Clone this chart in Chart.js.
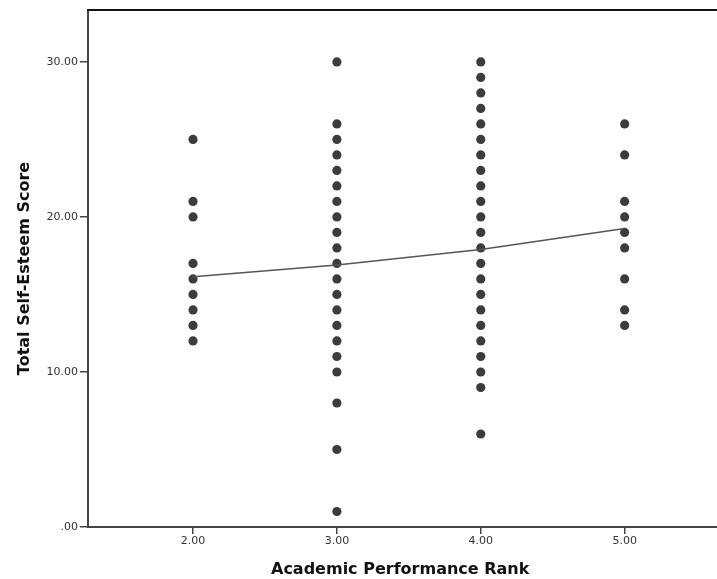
<!DOCTYPE html>
<html>
<head>
<meta charset="utf-8">
<script src="https://cdn.jsdelivr.net/npm/chart.js@4.4.1/dist/chart.umd.min.js"></script>
<style>
  html, body { margin: 0; padding: 0; background: #fff; }
  #wrap { width: 717px; height: 579px; }
</style>
</head>
<body>
<div id="wrap"><canvas id="chart" width="717" height="579"></canvas></div>
<script>
'use strict';

// ranks on the x axis and the scores seen at each rank
let ranks = [2, 3, 4, 5];
let scoresRank2 = [25, 21, 20, 17, 16, 15, 14, 13, 12];
let scoresRank3 = [30, 26, 25, 24, 23, 22, 21, 20, 19, 18, 17, 16, 15, 14, 13, 12, 11, 10, 8, 5, 1];
let scoresRank4 = [30, 29, 28, 27, 26, 25, 24, 23, 22, 21, 20, 19, 18, 17, 16, 15, 14, 13, 12, 11, 10, 9, 6];
let scoresRank5 = [26, 24, 21, 20, 19, 18, 16, 14, 13];
// fit line value at each rank
let fitLine = [16.15, 16.9, 17.9, 19.25];

let xTicks = [2, 3, 4, 5];
let yTicks = [0, 10, 20, 30];

let xTitle = 'Academic Performance Rank';
let yTitle = 'Total Self-Esteem Score';

let allScores = [scoresRank2, scoresRank3, scoresRank4, scoresRank5];
let points = [];
for (let i = 0; i < ranks.length; i++) {
  for (let j = 0; j < allScores[i].length; j++) {
    points.push({ x: ranks[i], y: allScores[i][j] });
  }
}
let linePoints = ranks.map((r, i) => ({ x: r, y: fitLine[i] }));

function formatTick(value) {
  if (value === 0) {
    return '.00';
  }
  return value.toFixed(2);
}

// top frame line and the rest of the bottom axis up to the page edge
let frameLines = {
  id: 'frameLines',
  afterDraw(chart) {
    let ctx = chart.ctx;
    let area = chart.chartArea;
    ctx.save();
    ctx.strokeStyle = '#111';
    ctx.lineWidth = 2;
    ctx.beginPath();
    ctx.moveTo(area.left - 1, area.top);
    ctx.lineTo(chart.width, area.top);
    ctx.stroke();
    ctx.strokeStyle = '#444';
    ctx.beginPath();
    ctx.moveTo(area.right - 2, Math.round(area.bottom));
    ctx.lineTo(chart.width, Math.round(area.bottom));
    ctx.stroke();
    ctx.restore();
  }
};

let tickFont = { family: 'DejaVu Sans', size: 11 };
let titleFont = { family: 'DejaVu Sans', size: 16, weight: 'bold' };

// eslint-disable-next-line no-unused-vars
let chart = new Chart(document.getElementById('chart').getContext('2d'), {
  type: 'scatter',
  data: {
    datasets: [{
      type: 'line',
      data: linePoints,
      borderColor: '#555555',
      borderWidth: 1.5,
      pointRadius: 0,
      fill: false,
      tension: 0,
      order: 0
    },
    {
      data: points,
      backgroundColor: '#3c3c3c',
      borderColor: '#3c3c3c',
      borderWidth: 0,
      pointRadius: 4.6,
      order: 1
    }]
  },
  options: {
    responsive: false,
    animation: false,
    devicePixelRatio: 1,
    layout: { padding: { top: 10, right: 0, left: 0, bottom: 0 } },
    plugins: {
      legend: { display: false },
      tooltip: { enabled: false }
    },
    scales: {
      x: {
        type: 'linear',
        min: 1.27,
        max: 5.61,
        afterBuildTicks: (axis) => { axis.ticks = xTicks.map(v => ({ value: v })); },
        afterFit: (axis) => { axis.height = 52; },
        grid: { drawOnChartArea: false, drawTicks: true, tickLength: 7, color: '#444', lineWidth: 1.5 },
        border: { display: true, color: '#444', width: 2 },
        ticks: { font: tickFont, color: '#333', padding: 1, callback: formatTick },
        title: { display: true, text: xTitle, font: titleFont, color: '#111', padding: { top: 0, bottom: 0 } }
      },
      y: {
        type: 'linear',
        min: 0,
        max: 33.35,
        afterBuildTicks: (axis) => { axis.ticks = yTicks.map(v => ({ value: v })); },
        afterFit: (axis) => { axis.width = 88; },
        grid: { drawOnChartArea: false, drawTicks: true, tickLength: 8, color: '#444', lineWidth: 1.5 },
        border: { display: true, color: '#444', width: 2 },
        ticks: { font: tickFont, color: '#333', padding: 2, callback: formatTick },
        title: { display: true, text: yTitle, font: titleFont, color: '#111', padding: { top: 15, bottom: 0 } }
      }
    }
  },
  plugins: [frameLines]
});
</script>
</body>
</html>
